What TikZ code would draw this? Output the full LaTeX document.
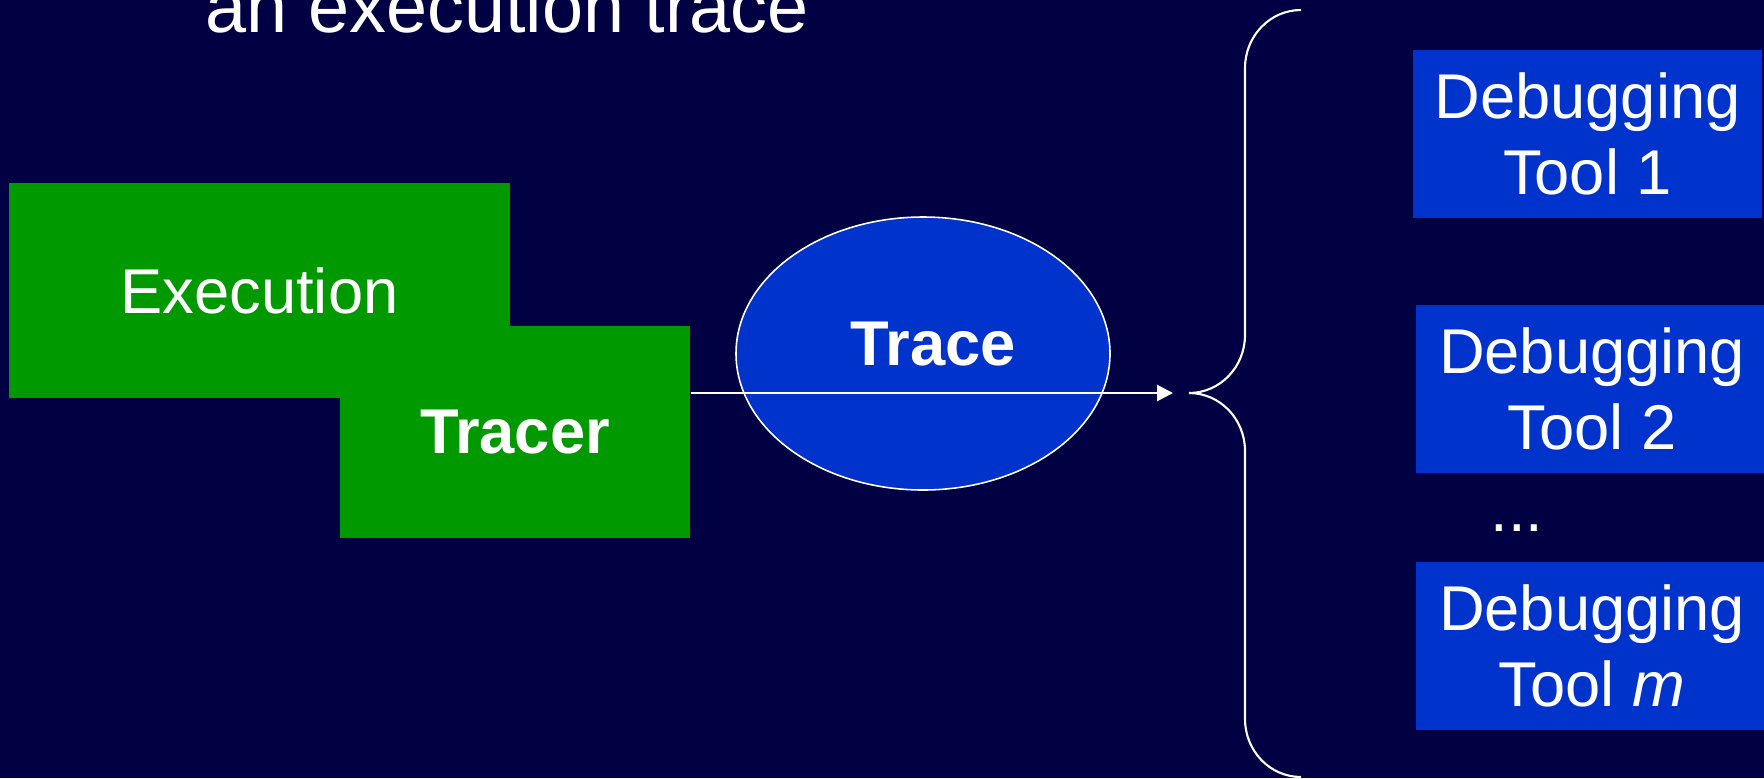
\documentclass[tikz,border=0pt]{standalone}
\usepackage{fontspec}
\setmainfont{Liberation Sans}
\usetikzlibrary{shapes.geometric,arrows.meta,calc}
\definecolor{slidenavy}{RGB}{0,0,66}
\definecolor{execgreen}{RGB}{0,153,0}
\definecolor{toolblue}{RGB}{0,51,204}
\tikzset{>={Triangle[length=1.6mm,width=1.6mm]}}
\tikzset{
  greenbox/.style={rectangle,fill=execgreen,text=white,inner sep=0pt,font=\fontsize{18}{21.6}\selectfont},
  toolbox/.style={rectangle,fill=toolblue,text=white,align=center,inner sep=0pt,minimum width=3.52cm,minimum height=1.68cm,font=\fontsize{18}{21.6}\selectfont},
  tracebubble/.style={ellipse,fill=toolblue,draw=white,line width=0.45pt,inner sep=0pt,minimum width=3.74cm,minimum height=2.73cm},
  flow/.style={white,line width=0.8pt,->},
  bracket/.style={white,line width=0.6pt},
}

\begin{document}
\begin{tikzpicture}
  \useasboundingbox (0,0) rectangle (17.64,7.78);
  \fill[slidenavy] (0,0) rectangle (17.64,7.78);
  \clip (0,0) rectangle (17.64,7.78);

  % Heading (cut at the top)
  \node[anchor=base west,inner sep=0pt,text=white,font=\fontsize{21}{25}\selectfont] (heading) at (2.05,7.46) {an execution trace};

  % Boxes
  \node[greenbox,minimum width=5.01cm,minimum height=2.15cm] (execution) at (2.595,4.875) {Execution};
  \node[greenbox,minimum width=3.50cm,minimum height=2.12cm,font=\fontsize{18}{21.6}\selectfont\bfseries] (tracer) at (5.15,3.46) {Tracer};
  \node[tracebubble,label={[text=white,font=\fontsize{18}{21.6}\selectfont\bfseries,xshift=1mm,yshift=0.9mm]center:Trace}] (trace) at (9.23,4.245) {};

  \node[toolbox,minimum width=3.49cm] (tool1) at (15.875,6.445) {Debugging\\Tool 1};
  \node[toolbox] (tool2) at (15.92,3.89) {Debugging\\Tool 2};
  \node[anchor=base,text=white,font=\fontsize{18}{21.6}\selectfont] (more) at (15.17,2.47) {...};
  \node[toolbox] (toolm) at (15.92,1.325) {Debugging\\Tool \textit{m}};

  % Vertices
  \coordinate (arrowend) at (11.73,3.85);
  \coordinate (bracetip) at (11.89,3.85);
  \coordinate (bracetop) at (13.01,7.68);
  \coordinate (bracebot) at (13.01,0.01);

  % Lines
  \draw[flow] (tracer.east |- arrowend) -- (arrowend);
  \draw[bracket] (bracetop) .. controls (12.70,7.68) and (12.45,7.42) .. (12.45,7.10)
    -- (12.45,4.43) .. controls (12.45,4.11) and (12.20,3.85) .. (bracetip);
  \draw[bracket] (bracetip) .. controls (12.20,3.85) and (12.45,3.59) .. (12.45,3.27)
    -- (12.45,0.59) .. controls (12.45,0.27) and (12.70,0.01) .. (bracebot);
\end{tikzpicture}
\end{document}
